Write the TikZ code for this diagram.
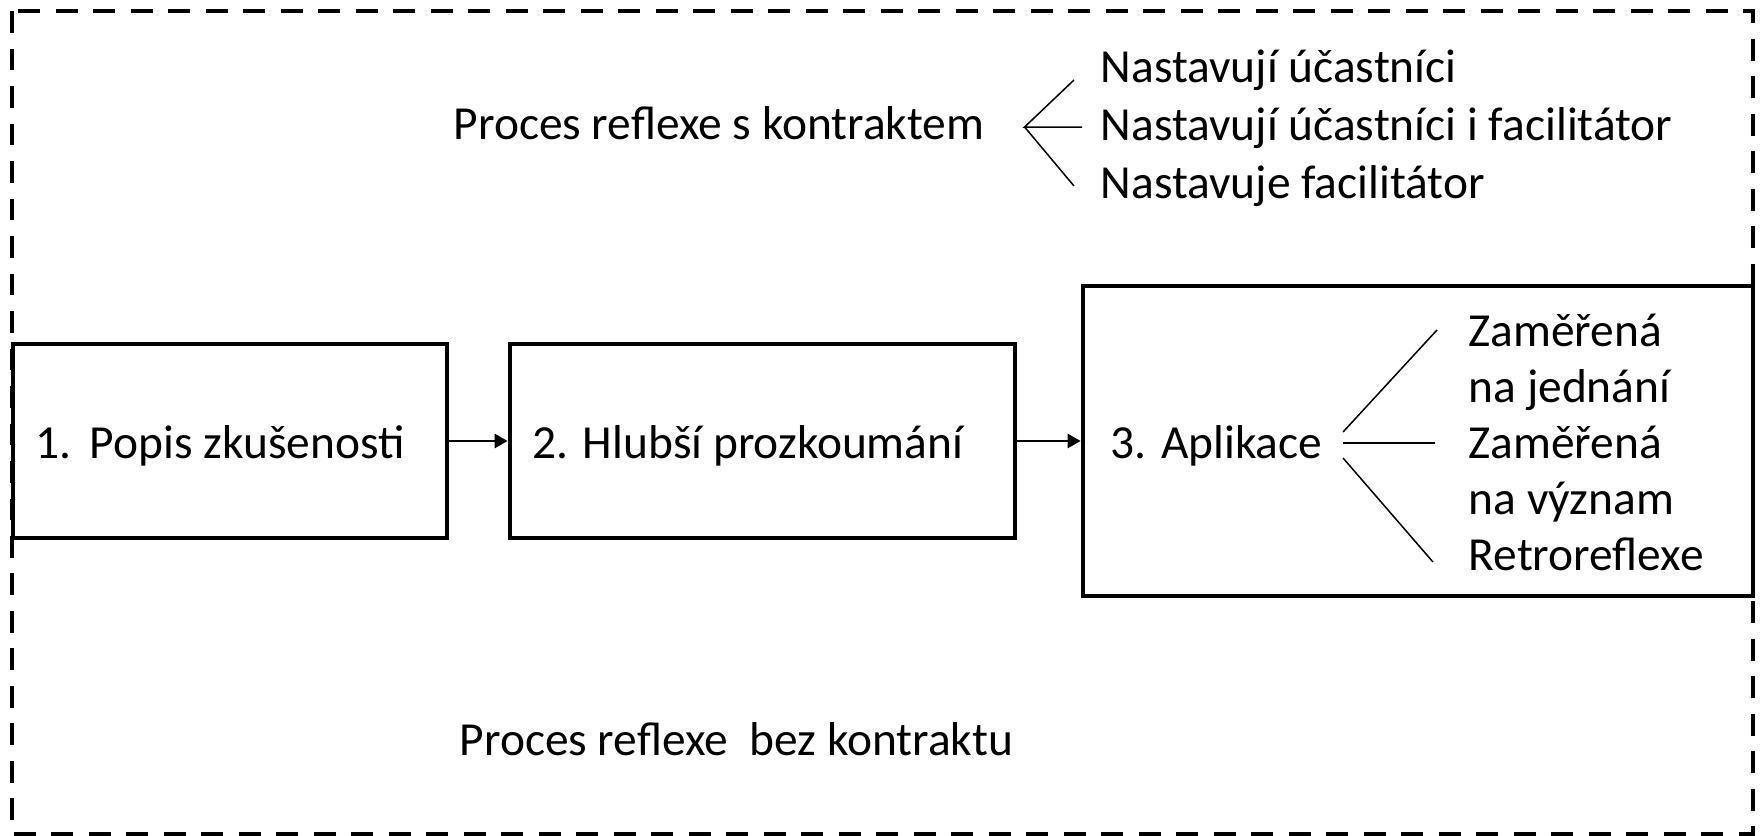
\documentclass[tikz,border=0pt]{standalone}
\usepackage{fontspec}
\setmainfont{Carlito}
\usetikzlibrary{arrows.meta}

\begin{document}
\begin{tikzpicture}[x=0.1mm,y=-0.1mm,
    txt/.style={font=\fontsize{13.5}{16}\selectfont, inner sep=0pt, anchor=base west},
    stage/.style={draw, line width=0.47mm, minimum height=19.4mm, inner sep=0pt},
    arr/.style={-{Triangle[length=1.3mm,width=1.4mm]}, line width=0.27mm},
    branch/.style={line width=0.15mm}]

\useasboundingbox (0,0) rectangle (1761,836);
\fill[white] (0,0) rectangle (1761,836);

% outer frame
\draw[line width=0.43mm, dash pattern=on 2.17mm off 1.58mm] (12,11) rectangle (1753,834);

% stages
\node[stage, minimum width=43.4mm] (popis) at (230,441) {};
\node[stage, minimum width=50.5mm] (hlubsi) at (762.5,441) {};
\node[stage, minimum width=67mm, minimum height=31mm] (aplikace) at (1418,441) {};

\draw[arr] (popis) -- (hlubsi);
\draw[arr] (hlubsi) -- (aplikace);

\node[txt] (t1) at (35,458) {1.\hspace{1.8mm}Popis zkušenosti};
\node[txt] (t2) at (532,458) {2. Hlubší prozkoumání};
\node[txt] (apl) at (1110,458) {3. Aplikace};

% kinds of application
\node[txt] (zam1) at (1468,346) {Zaměřená};
\node[txt] (jed) at (1468,402) {na jednání};
\node[txt] (zam2) at (1468,458) {Zaměřená};
\node[txt] (vyz) at (1468,514) {na význam};
\node[txt] (retro) at (1468,570) {Retroreflexe};

\draw[branch] ([shift={(20,-26)}]apl.base east) -- ([shift={(-31,-16)}]zam1.base west);
\draw[branch] ([shift={(20,-15)}]apl.base east) -- ([shift={(-33,-15)}]zam2.base west);
\draw[branch] ([shift={(20,0)}]apl.base east) -- ([shift={(-35,-8)}]retro.base west);

% contract
\node[txt] (kon) at (453,139) {Proces reflexe s kontraktem};
\node[txt] (opt1) at (1100,82) {Nastavují účastníci};
\node[txt] (opt2) at (1100,140) {Nastavují účastníci i facilitátor};
\node[txt] (opt3) at (1100,198) {Nastavuje facilitátor};

\coordinate (kv) at ([shift={(40,-12)}]kon.base east);
\draw[branch] ([shift={(-26,-2)}]opt1.base west) -- (kv) -- ([shift={(-18,-13)}]opt2.base west);
\draw[branch] (kv) -- ([shift={(-26,-12)}]opt3.base west);

\node[txt] (bez) at (459,755) {Proces reflexe\ \ bez kontraktu};

\end{tikzpicture}
\end{document}
